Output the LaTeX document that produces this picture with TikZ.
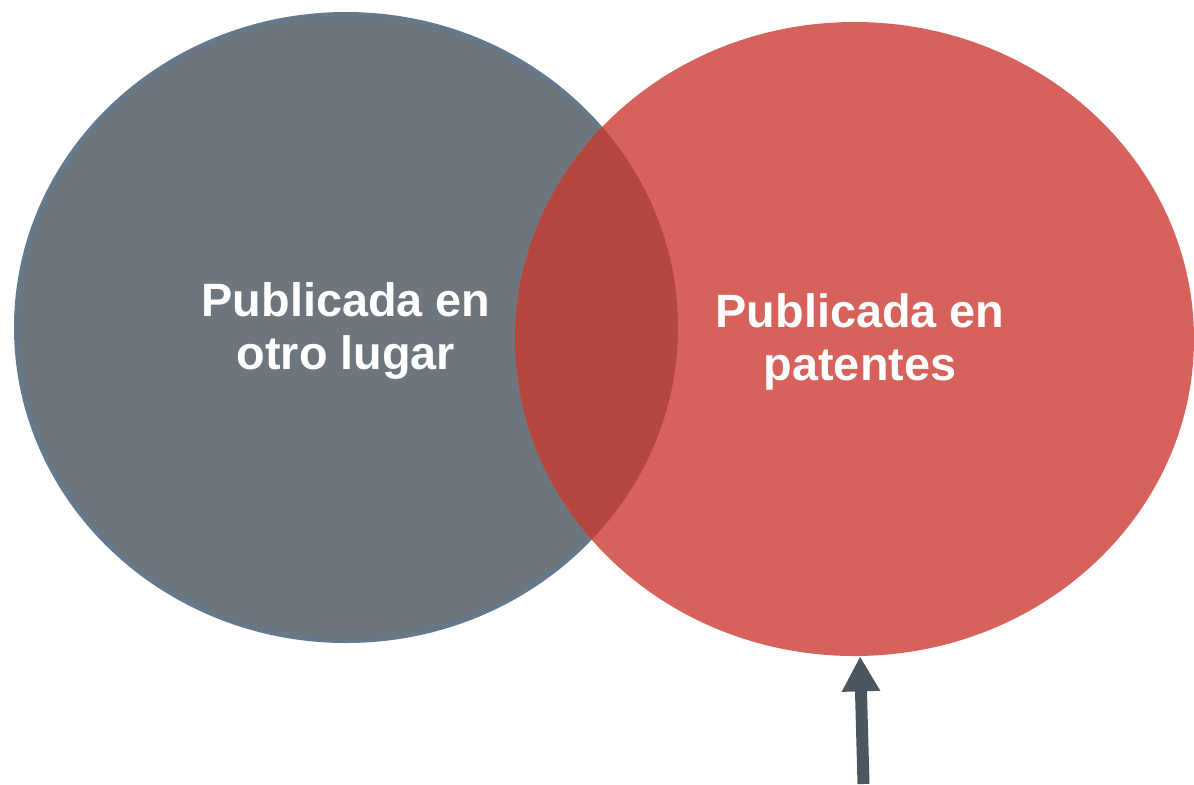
\documentclass[tikz,border=0pt]{standalone}
\usepackage{fontspec}
\setmainfont{Liberation Sans}
\usetikzlibrary{shapes.geometric}
\usetikzlibrary{arrows.meta}
\definecolor{otrogray}{RGB}{109,117,125}
\definecolor{otroborder}{RGB}{102,120,140}
\definecolor{patred}{RGB}{214,98,91}
\definecolor{bothred}{RGB}{181,71,63}
\definecolor{arrowgray}{RGB}{75,86,97}

\begin{document}
\begin{tikzpicture}[x=0.5pt, y=-0.5pt,
    vtext/.style={text=white, font=\fontsize{23.4}{26.5}\selectfont\bfseries, align=center}]
      \useasboundingbox (0,0) rectangle (1194,784);
      \node[ellipse, draw=otroborder, line width=2.5pt, fill=otrogray, inner sep=0pt,
            minimum width=329.5pt, minimum height=313pt] (otro) at (346,327.5) {};
      \node[ellipse, fill=patred, inner sep=0pt,
            minimum width=339.5pt, minimum height=317pt] (pat) at (854.5,339) {};
      % overlap of the two
      \begin{scope}
        \clip (346,327.5) ellipse [x radius=332, y radius=315.5];
        \fill[bothred] (854.5,339) ellipse [x radius=339.5, y radius=317];
      \end{scope}
      \node[vtext] (otrotext) at (346,331) {Publicada en\\otro lugar};
      \node[vtext] (pattext) at (860,341.5) {Publicada en\\patentes};
      \coordinate (tail) at (863.5,784);
      \draw[arrowgray, line width=6pt, -{Triangle[width=18pt, length=17.5pt]}] (tail) -- (pat.-89);
\end{tikzpicture}
\end{document}
